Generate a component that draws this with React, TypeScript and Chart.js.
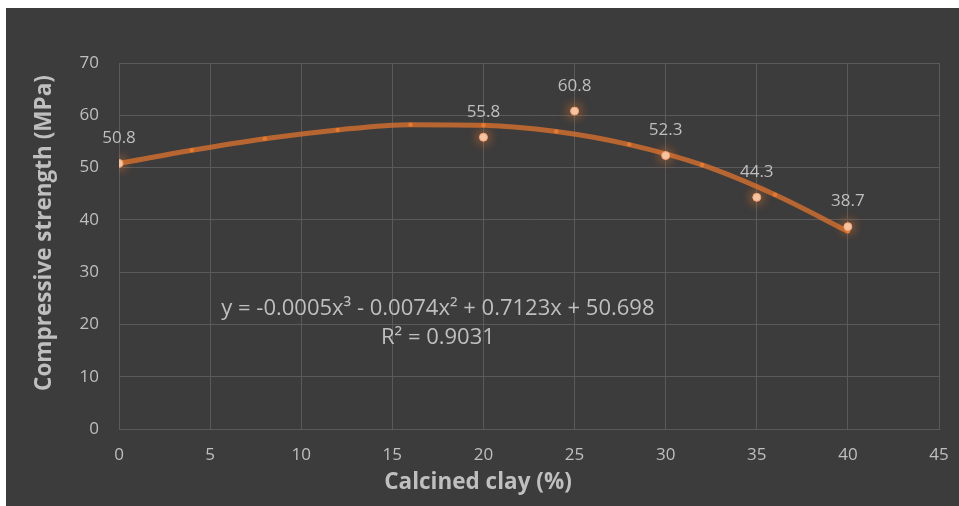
import React, { useEffect, useRef } from 'react';
import { Chart, registerables } from 'chart.js';
Chart.register(...registerables);

// Measured data points
const clayPct = [0, 20, 25, 30, 35, 40];
const strength = [50.8, 55.8, 60.8, 52.3, 44.3, 38.7];
// Trend line points
const trendX = [0, 4, 8, 12, 16, 20, 24, 28, 32, 36, 40];
const trendY = [50.8, 53.3, 55.5, 57.2, 58.2, 58.1, 56.9, 54.4, 50.5, 44.8, 37.8];
// Axes
const xMin = 0, xMax = 45, xStep = 5;
const yMin = 0, yMax = 70, yStep = 10;
const xTitle = 'Calcined clay (%)';
const yTitle = 'Compressive strength (MPa)';
// Trendline annotation
const equationText = 'y = -0.0005x³ - 0.0074x² + 0.7123x + 50.698';
const r2Text = 'R² = 0.9031';
const equationAnchor = [17.5, 23];

const FONT = "'Open Sans', 'Noto Sans', sans-serif";
const TEXT = '#bfbfbf';
const GRID = '#5a5a5a';
const BG = '#3c3c3c';

export default function App() {
  const ref = useRef<HTMLCanvasElement | null>(null);
  useEffect(() => {
    const canvas = ref.current!;
    const glowPlugin = {
      id: 'glow',
      beforeDatasetDraw(chart: any, args: any) {
        if (args.index === 0) {
          const ctx = chart.ctx;
          ctx.save();
          ctx.shadowColor = 'rgba(237,125,49,1)';
          ctx.shadowBlur = 12;
        }
      },
      afterDatasetDraw(chart: any, args: any) {
        if (args.index === 0) chart.ctx.restore();
      },
    };
    const labelPlugin = {
      id: 'labels',
      afterDatasetsDraw(chart: any) {
        const ctx = chart.ctx;
        const meta = chart.getDatasetMeta(0);
        const area = chart.chartArea;
        ctx.save();
        ctx.fillStyle = TEXT;
        ctx.font = `17px ${FONT}`;
        ctx.textAlign = 'center';
        ctx.textBaseline = 'middle';
        meta.data.forEach((pt: any, i: number) => {
          ctx.fillText(String(strength[i]), pt.x, pt.y - 25);
        });
        const xs = chart.scales.x, ys = chart.scales.y;
        const ex = xs.getPixelForValue(equationAnchor[0]);
        const ey = ys.getPixelForValue(equationAnchor[1]);
        ctx.font = `22px ${FONT}`;
        ctx.fillText(equationText, ex, ey);
        ctx.fillText(r2Text, ex, ey + 29);
        // axis titles
        ctx.font = `bold 22.5px ${FONT}`;
        ctx.fillText(xTitle, area.left + 359, area.bottom + 54);
        ctx.translate(39, area.top + 170);
        ctx.rotate(-Math.PI / 2);
        ctx.fillText(yTitle, 0, 0);
        ctx.restore();
      },
    };
    const chart = new Chart(canvas, {
      type: 'scatter',
      data: {
        datasets: [
          {
            label: 'Compressive strength',
            data: clayPct.map((x, i) => ({ x, y: strength[i] })),
            backgroundColor: '#f8cbad',
            borderColor: '#f4a070',
            borderWidth: 1,
            pointRadius: 4,
            pointHoverRadius: 4,
            order: 0,
          },
          {
            label: 'Trend',
            type: 'line',
            data: trendX.map((x, i) => ({ x, y: trendY[i] })),
            borderColor: 'rgba(225,116,45,0.75)',
            borderWidth: 5,
            backgroundColor: 'rgba(235,122,45,0.95)',
            pointRadius: 2.3,
            pointBorderWidth: 0,
            cubicInterpolationMode: 'monotone',
            showLine: true,
            order: 1,
          } as any,
        ],
      },
      options: {
        responsive: false,
        animation: false,
        devicePixelRatio: 1,
        layout: { padding: { left: 0, top: 55, right: 20, bottom: 0 } },
        plugins: { legend: { display: false }, tooltip: { enabled: false } },
        scales: {
          x: {
            type: 'linear',
            min: xMin,
            max: xMax,
            ticks: { stepSize: xStep, color: TEXT, font: { family: FONT, size: 17 }, padding: 16 },
            grid: { color: GRID, drawTicks: false, lineWidth: 1 },
            border: { color: GRID },
            afterFit(scale: any) { scale.height = 77; scale.paddingRight = 0; scale.paddingLeft = 0; },
          },
          y: {
            type: 'linear',
            min: yMin,
            max: yMax,
            ticks: { stepSize: yStep, color: TEXT, font: { family: FONT, size: 17 }, padding: 20 },
            grid: { color: GRID, drawTicks: false, lineWidth: 1 },
            border: { color: GRID },
            afterFit(scale: any) { scale.width = 113; scale.paddingTop = 0; scale.paddingBottom = 0; },
          },
        },
      },
      plugins: [glowPlugin, labelPlugin],
    });
    return () => chart.destroy();
  }, []);
  return (
    <div style={{ position: 'fixed', left: 6, top: 8, width: 953, height: 498, background: BG }}>
      <canvas ref={ref} width={953} height={498} style={{ display: 'block' }} />
    </div>
  );
}
